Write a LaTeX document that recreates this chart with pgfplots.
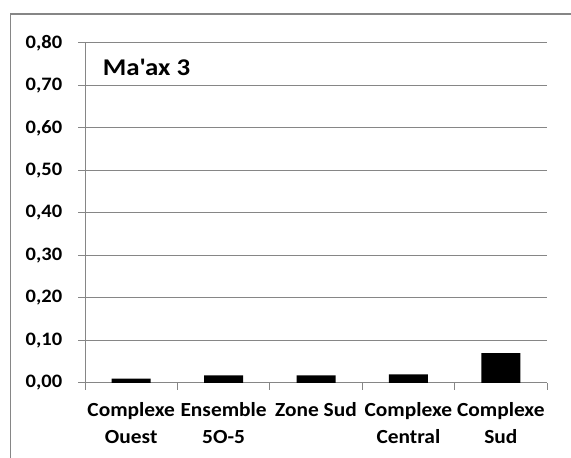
\documentclass[border=0pt]{standalone}
\usepackage{pgfplots}
\pgfplotsset{compat=1.18}
\usepackage{fontspec}
\setmainfont{Carlito}[Ligatures=TeXOff]
\definecolor{gridgray}{RGB}{134,134,134}
\begin{document}
\begin{tikzpicture}[x=1bp,y=1bp]
\useasboundingbox (0,0) rectangle (571,458);
\draw[gridgray, line width=1.5bp] (10.5,-10) rectangle (580,444);
\begin{axis}[
  at={(85bp,75bp)}, anchor=south west,
  scale only axis, width=462bp, height=340bp,
  xmin=-0.5, xmax=4.5, ymin=0, ymax=0.8,
  ybar, bar width=39bp,
  axis x line*=bottom, axis y line*=left,
  axis line style={gridgray, line width=1bp},
  ymajorgrids, major grid style={gridgray, line width=1bp},
  ytick={0,0.1,0.2,0.3,0.4,0.5,0.6,0.7,0.8},
  xtick={0,1,2,3,4},
  xticklabels={{Complexe\\Ouest},{Ensemble\\5O-5},{Zone Sud},{Complexe\\Central},{Complexe\\Sud}},
  minor xtick={-0.5,0.5,1.5,2.5,3.5,4.5},
  tick align=outside,
  major tick length=7bp, minor tick length=7bp,
  tick style={gridgray, line width=1bp},
  major x tick style={draw=none},
  yticklabel style={font=\bfseries\fontsize{19bp}{24bp}\selectfont, xshift=-12bp, xscale=1.08,
    /pgf/number format/.cd, fixed, fixed zerofill, precision=2, use comma, assume math mode=true},
  xticklabel style={font=\bfseries\fontsize{20bp}{27bp}\selectfont, align=center, anchor=north, yshift=-9bp, xscale=1.07},
]
\addplot[fill=black, draw=none] coordinates {(0,0.01) (1,0.018) (2,0.018) (3,0.02) (4,0.07)};
\node[anchor=base west, inner sep=0, xscale=1.12, font=\bfseries\fontsize{24bp}{27bp}\selectfont] at (rel axis cs:0.038,0.903) {Ma'ax 3};
\end{axis}
\end{tikzpicture}
\end{document}
